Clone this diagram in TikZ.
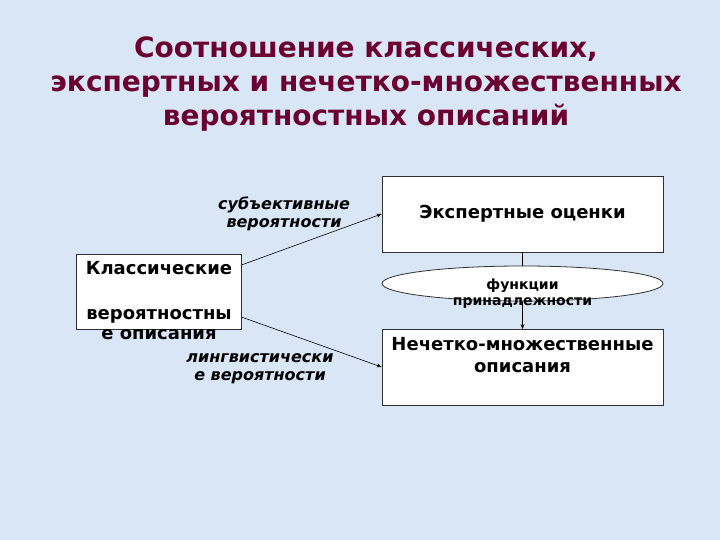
\documentclass[tikz,border=0pt]{standalone}
\usepackage{fontspec}
\setmainfont{DejaVu Sans}
\usepackage{tikz}
\usetikzlibrary{arrows.meta,positioning,shapes.geometric}
\definecolor{Backdrop}{HTML}{D8E6F6}
\definecolor{TitleRed}{HTML}{6B0030}
\definecolor{Frame}{HTML}{303030}
\tikzset{
  mainbox/.style={
    draw=Frame,
    fill=white,
    line width=0.8pt,
    minimum width=281pt,
    minimum height=76pt,
    inner sep=0pt
  },
  boxtext/.style={
    font=\fontsize{18}{22}\selectfont\bfseries,
    align=center,
    text=black
  },
  edgelabel/.style={
    font=\fontsize{16}{18}\selectfont\bfseries\itshape,
    align=center,
    text=black
  },
  linkarrow/.style={
    -{Stealth[length=5pt,width=4pt]},
    line width=0.6pt,
    draw=black
  }
}
\begin{document}
\begin{tikzpicture}[x=1pt,y=-1pt]
\fill[Backdrop] (0,0) rectangle (720,540);
\useasboundingbox (0,0) rectangle (720,540);
% title
\node[font=\fontsize{28}{34}\selectfont\bfseries, text=TitleRed, align=center]
  (title) at (366,84) {Соотношение классических,\\экспертных и нечетко-множественных\\вероятностных описаний};
% boxes
\node[mainbox, minimum width=165pt, minimum height=75pt] (klass) at (158.5,291.5) {};
\node[boxtext, anchor=north] (klasstext) at (159,258) {Классические\\[1pt]\\[0pt]вероятностны\\[-2pt]е описания};
\node[mainbox] (expert) at (522.5,214) {};
\node[boxtext] (experttext) at (expert.center) {Экспертные оценки};
\node[mainbox] (fuzzy) at (522.5,367.5) {};
\node[boxtext, anchor=north] (fuzzytext) at (522.5,334) {Нечетко-множественные\\описания};
% links
\draw[linkarrow] (klass.east |- 0,265) -- (expert.west |- 0,214);
\draw[linkarrow] (klass.east |- 0,317) -- (fuzzy.west |- 0,367);
\draw[linkarrow] (expert.south) -- (fuzzy.north);
\node[draw=Frame, fill=white, line width=0.8pt, ellipse, minimum width=281pt, minimum height=35pt, inner sep=0pt]
  (membership) at (522.5,283.5) {};
\node[font=\fontsize{14}{16}\selectfont\bfseries, align=center, below=-8pt of membership.center]
  (membertext) {функции\\принадлежности};
% labels
\node[edgelabel] (subjlabel) at (284,214) {субъективные\\вероятности};
\node[edgelabel] (linglabel) at (260,369) {лингвистически\\е вероятности};
\end{tikzpicture}
\end{document}
